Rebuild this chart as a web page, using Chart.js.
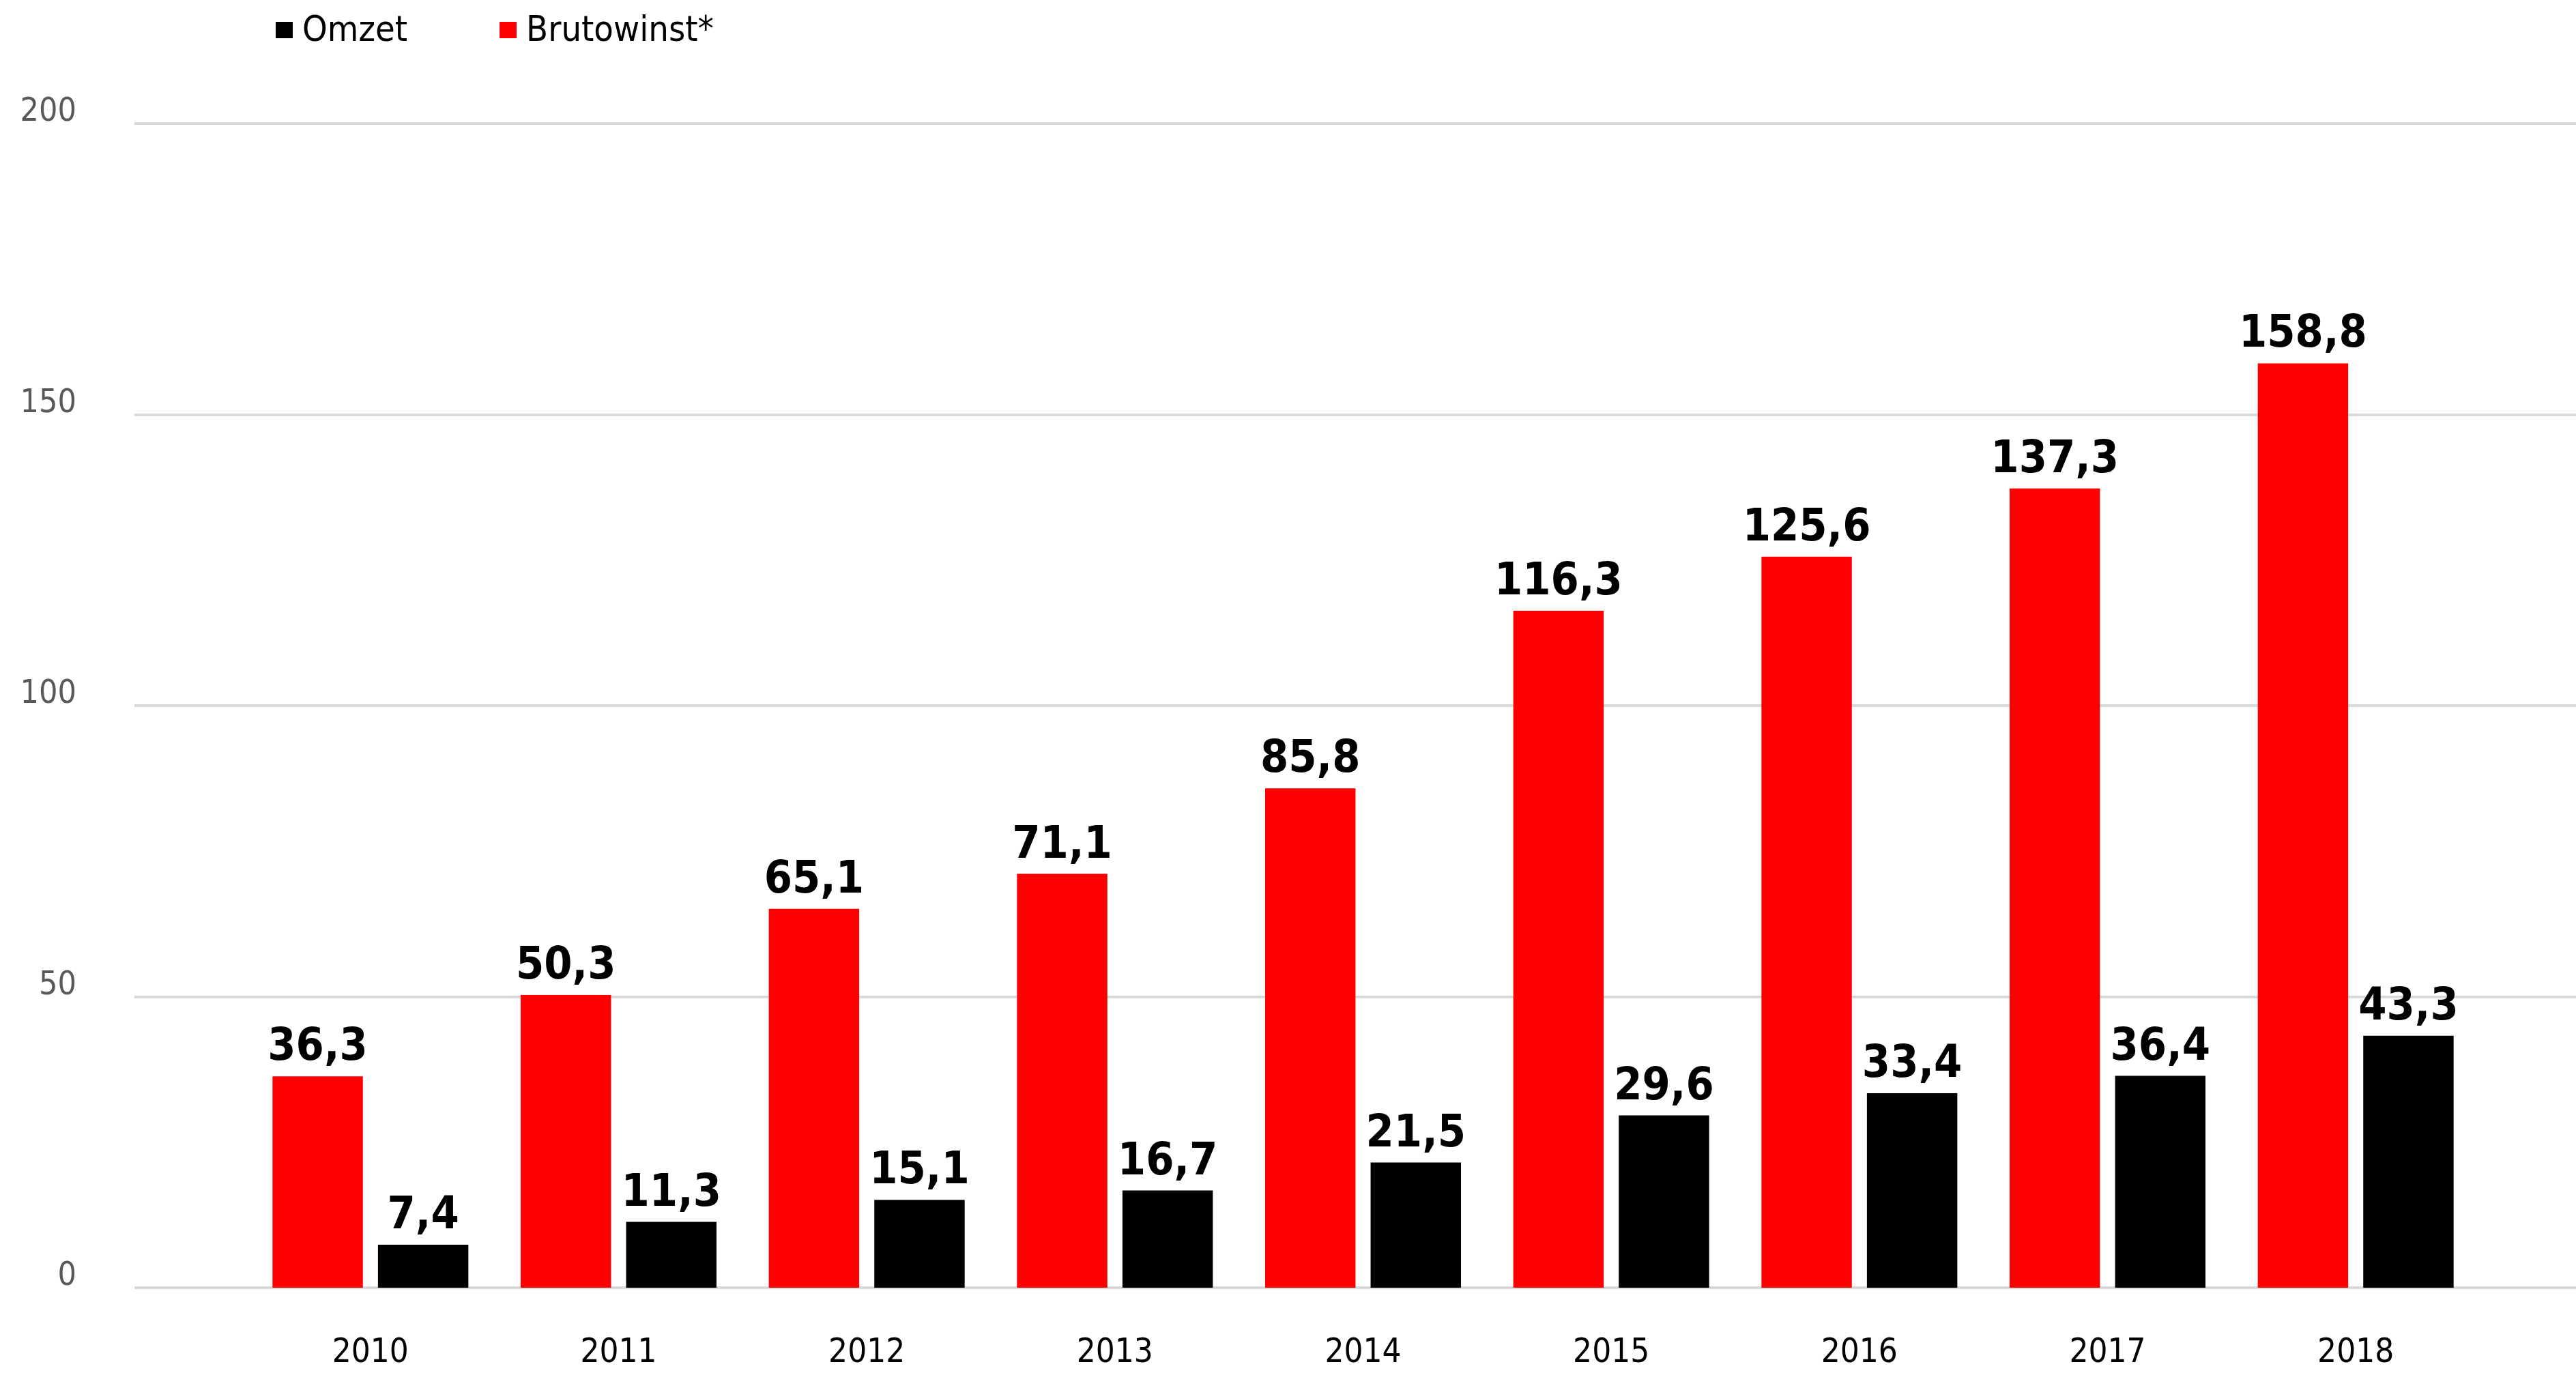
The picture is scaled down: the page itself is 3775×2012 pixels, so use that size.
<!DOCTYPE html>
<html lang="nl">
<head>
<meta charset="utf-8">
<title>Omzet en brutowinst 2010-2018</title>
<script src="https://cdn.jsdelivr.net/npm/chart.js@4.4.1/dist/chart.umd.min.js"></script>
<style>
  html, body { margin: 0; padding: 0; background: #fff; }
  #chart { display: block; }
</style>
</head>
<body>
<canvas id="chart" width="3775" height="2012"></canvas>
<script>
// jaren en waarden
const years = ['2010', '2011', '2012', '2013', '2014', '2015', '2016', '2017', '2018'];
const brutowinst = [36.3, 50.3, 65.1, 71.1, 85.8, 116.3, 125.6, 137.3, 158.8];
const omzet = [7.4, 11.3, 15.1, 16.7, 21.5, 29.6, 33.4, 36.4, 43.3];
const yTicks = [0, 50, 100, 150, 200];

const FONT = "'DejaVu Sans Condensed', 'DejaVu Sans', sans-serif";

// horizontale hulplijnen over de volle breedte
const fullGrid = {
    id: 'fullGrid',
    beforeDatasetsDraw(chart) {
        const { ctx, scales: { y } } = chart;
        ctx.save();
        ctx.strokeStyle = '#d9d9d9';
        ctx.lineWidth = 4;
        y.ticks.forEach(t => {
            const py = Math.round(y.getPixelForValue(t.value));
            ctx.beginPath();
            ctx.moveTo(197, py);
            ctx.lineTo(chart.width, py);
            ctx.stroke();
        });
        ctx.restore();
    }
};

// waarde boven elke staaf, met komma
const valueLabels = {
    id: 'valueLabels',
    afterDatasetsDraw(chart) {
        const { ctx } = chart;
        ctx.save();
        ctx.fillStyle = '#000';
        ctx.font = 'bold 66px ' + FONT;
        ctx.textAlign = 'center';
        ctx.textBaseline = 'alphabetic';
        chart.data.datasets.forEach((ds, i) => {
            chart.getDatasetMeta(i).data.forEach((bar, j) => {
                const txt = ds.data[j].toFixed(1).replace('.', ',');
                ctx.fillText(txt, bar.x, bar.y - 24);
            });
        });
        ctx.restore();
    }
};

// legenda linksboven: Omzet, Brutowinst*
const topLegend = {
    id: 'topLegend',
    afterDraw(chart) {
        const { ctx } = chart;
        ctx.save();
        ctx.font = '52px ' + FONT;
        ctx.textBaseline = 'alphabetic';
        let x = 404;
        chart.data.datasets.slice().reverse().forEach(ds => {
            ctx.fillStyle = ds.backgroundColor;
            ctx.fillRect(x, 32, 25, 24);
            ctx.fillStyle = '#000';
            ctx.fillText(ds.label, x + 39, 60);
            x += 39 + ctx.measureText(ds.label).width + 135;
        });
        ctx.restore();
    }
};

const ctx = document.getElementById('chart').getContext('2d');

const chart = new Chart(ctx, {
    type: 'bar',
    data: {
        labels: years,
        datasets: [
            {
                label: 'Brutowinst*',
                data: brutowinst,
                backgroundColor: '#ff0000',
                borderWidth: 0
            },
            {
                label: 'Omzet',
                data: omzet,
                backgroundColor: '#000000',
                borderWidth: 0
            }
        ]
    },
    options: {
        responsive: false,
        devicePixelRatio: 1,
        animation: false,
        categoryPercentage: 0.85,
        barPercentage: 0.857,
        layout: {
            padding: { top: 181, right: 141, bottom: 0, left: 0 }
        },
        scales: {
            x: {
                grid: { display: false, drawTicks: false },
                border: { display: false },
                ticks: {
                    color: '#000',
                    font: { family: FONT, size: 49 },
                    padding: 67,
                    maxRotation: 0
                },
                afterFit(scale) { scale.height = 125; }
            },
            y: {
                min: yTicks[0],
                max: yTicks[yTicks.length - 1],
                grid: { display: false, drawTicks: false },
                border: { display: false },
                ticks: {
                    stepSize: yTicks[1] - yTicks[0],
                    color: '#595959',
                    font: { family: FONT, size: 48 },
                    padding: 249,
                    labelOffset: -16
                },
                afterFit(scale) {
                    // de grote tick-padding hoort alleen horizontaal te tellen
                    scale.width = 361;
                    scale.paddingTop = 0;
                    scale.paddingBottom = 0;
                }
            }
        },
        plugins: {
            legend: { display: false },
            tooltip: { enabled: false }
        }
    },
    plugins: [fullGrid, valueLabels, topLegend]
});
</script>
</body>
</html>
